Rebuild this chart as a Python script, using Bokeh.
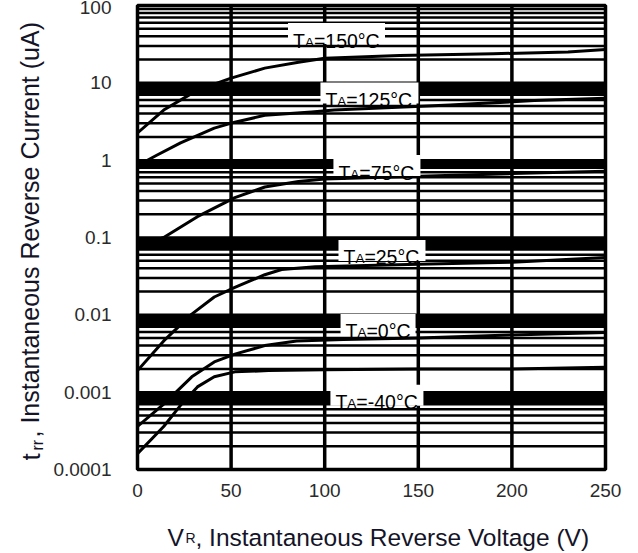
from bokeh.plotting import figure
from bokeh.models import Range1d, FixedTicker
from bokeh.layouts import row, column
from bokeh.core.properties import value
from bokeh.embed import file_html
from bokeh.resources import INLINE

# ---------------- data ----------------
x_ticks = [0, 50, 100, 150, 200, 250]
y_ticks = [0.0001, 0.001, 0.01, 0.1, 1, 10, 100]
y_tick_labels = ["0.0001", "0.001", "0.01", "0.1", "1", "10", "100"]

v_150 = [0, 14, 32, 50, 68, 86, 100, 140, 190, 230, 250]
i_150 = [2.25, 4.45, 8.05, 11.5, 15.5, 18.5, 20.8, 22.5, 23.8, 25.0, 27.0]
v_125 = [0, 10, 23, 41, 52, 68, 93, 105, 167, 212, 250]
i_125 = [0.85, 1.15, 1.67, 2.6, 3.1, 3.8, 4.2, 4.45, 5.15, 5.9, 6.3]
v_75 = [0, 14, 32, 52, 68, 86, 100, 150, 200, 250]
i_75 = [0.075, 0.1, 0.186, 0.327, 0.45, 0.53, 0.57, 0.62, 0.67, 0.72]
v_25 = [0, 14, 29, 41, 52, 68, 77, 95, 150, 200, 250]
i_25 = [0.0019, 0.0046, 0.0102, 0.017, 0.0227, 0.033, 0.0386, 0.042, 0.045, 0.048, 0.055]
v_0 = [0, 14, 29, 41, 52, 68, 85, 110, 150, 200, 250]
i_0 = [0.00036, 0.0007, 0.00158, 0.00246, 0.0031, 0.004, 0.0046, 0.0048, 0.005, 0.0055, 0.0059]
v_m40 = [0, 14, 23.5, 32, 41, 52, 70, 100, 150, 200, 250]
i_m40 = [0.00016, 0.00036, 0.0007, 0.00117, 0.00158, 0.00183, 0.0019, 0.00195, 0.002, 0.002, 0.0021]

curves_v = [v_150, v_125, v_75, v_25, v_0, v_m40]
curves_i = [i_150, i_125, i_75, i_25, i_0, i_m40]

label_temps = ["=150°C", "=125°C", "=75°C", "=25°C", "=0°C", "=-40°C"]
label_v = [106.3, 123.9, 127.9, 130.6, 128.5, 127.9]
label_i = [43.4, 7.39, 0.853, 0.068, 0.0075, 0.00091]

x_title_parts = ["V", "R", ", Instantaneous Reverse Voltage (V)"]
y_title_parts = ["t", "rr", ", Instantaneous Reverse Current (uA)"]

# ---------------- styling ----------------
FONT = "Liberation Sans"
TC = "#141428"
box_w = [97, 98, 87, 87, 75, 93]
T_W = 11.9
A_W = 9.0
band_depth = [0.7, 0.7, 0.7, 0.81, 0.7]   # relative lower edge of the dark band under each inner decade

TOTAL_W, TOTAL_H = 638, 553
LEFT_W = 48
MAIN_W = TOTAL_W - LEFT_W
MAIN_H = 515
BOT_H = TOTAL_H - MAIN_H
FR_L, FR_R, FR_T, FR_B = 137, 605, 5, 469   # frame edges in page pixels
BX_SHIFT = 7                                  # compensation for the title strip

p = figure(width=MAIN_W, height=MAIN_H, title=None,
           x_range=Range1d(0, 250), y_range=Range1d(1e-4, 100),
           y_axis_type="log", output_backend="svg", toolbar_location=None,
           min_border_left=FR_L - LEFT_W, min_border_right=TOTAL_W - FR_R,
           min_border_top=FR_T, min_border_bottom=MAIN_H - FR_B)
p.background_fill_color = "white"
p.border_fill_color = "white"
p.outline_line_color = "black"
p.outline_line_width = 3.5
p.grid.visible = False

for ax in (p.xaxis[0], p.yaxis[0]):
    ax.axis_line_color = None
    ax.major_tick_line_color = None
    ax.minor_tick_line_color = None
    ax.major_tick_out = 0
    ax.minor_tick_out = 0
    ax.major_label_text_font = FONT
    ax.major_label_text_font_size = "19px"
    ax.major_label_text_color = "#2a2a2a"

p.xaxis.ticker = FixedTicker(ticks=x_ticks, minor_ticks=[])
p.xaxis.major_label_standoff = 14
p.yaxis.ticker = FixedTicker(ticks=y_ticks, minor_ticks=[])
p.yaxis.major_label_overrides = {t: s for t, s in zip(y_ticks, y_tick_labels)}
p.yaxis.major_label_standoff = 26

# grid: horizontal lines at 1..9 per decade
h_lines = []
for k in range(-4, 2):
    for m in range(1, 10):
        val = m * 10.0 ** k
        if 1e-4 < val < 100:
            h_lines.append(val)
p.segment(x0=0, x1=250, y0=h_lines, y1=h_lines, line_color="black", line_width=2.5)

# thick dark bands just below each inner decade
band_top = y_ticks[1:-1]
band_bot = [d * f for d, f in zip(band_top, band_depth)]
p.quad(left=0, right=250, bottom=band_bot, top=band_top, fill_color="black", line_color=None)

# vertical grid lines
v_lines = x_ticks[1:-1]
p.segment(x0=v_lines, x1=v_lines, y0=1e-4, y1=100, line_color="black", line_width=3.5)

# curves
for vv, ii in zip(curves_v, curves_i):
    p.line(vv, ii, line_color="black", line_width=3, line_join="round")

# curve labels
p.rect(x=label_v, y=label_i, width=box_w, height=21,
       width_units="screen", height_units="screen",
       fill_color="white", line_color=None)
x_off_T = [-w / 2 + 5 for w in box_w]
x_off_A = [o + T_W for o in x_off_T]
x_off_R = [o + A_W for o in x_off_A]
p.text(x=label_v, y=label_i, text=["T"] * 6, x_offset=x_off_T, y_offset=7,
       text_align="left", text_baseline="alphabetic",
       text_font=value(FONT), text_font_size="19.5px", text_color="black")
p.text(x=label_v, y=label_i, text=["A"] * 6, x_offset=x_off_A, y_offset=8.5,
       text_align="left", text_baseline="alphabetic",
       text_font=value(FONT), text_font_size="13.5px", text_color="black")
p.text(x=label_v, y=label_i, text=label_temps, x_offset=x_off_R, y_offset=7,
       text_align="left", text_baseline="alphabetic",
       text_font=value(FONT), text_font_size="19.5px", text_color="black")


def title_fig(w, h, xr, yr, bl=0, br=0):
    f = figure(width=w, height=h, title=None,
               x_range=Range1d(*xr), y_range=Range1d(*yr),
               x_axis_type=None, y_axis_type=None, output_backend="svg",
               toolbar_location=None, min_border=0,
               min_border_left=bl, min_border_right=br,
               min_border_top=0, min_border_bottom=0)
    f.outline_line_color = None
    f.background_fill_color = "white"
    f.border_fill_color = "white"
    return f


# y-axis title panel: full height, data y = distance from page bottom
ly = title_fig(LEFT_W, TOTAL_H, (0, LEFT_W), (0, TOTAL_H))
ly.text(x=30, y=TOTAL_H - 460, text=[y_title_parts[0]], angle=1.5708,
        text_font=value(FONT), text_font_size="26px",
        text_color=TC, text_align="left", text_baseline="alphabetic")
ly.text(x=37, y=TOTAL_H - 450, text=[y_title_parts[1]], angle=1.5708,
        text_font=value(FONT), text_font_size="16px",
        text_color=TC, text_align="left", text_baseline="alphabetic")
ly.text(x=30, y=TOTAL_H - 437, text=[y_title_parts[2]], angle=1.5708,
        text_font=value(FONT), text_font_size="25px",
        text_color=TC, text_align="left", text_baseline="alphabetic")

# x-axis title panel: same side borders as the main plot, data x = page x
bx = title_fig(MAIN_W, BOT_H, (FR_L, FR_R), (0, BOT_H),
               bl=FR_L - LEFT_W, br=TOTAL_W - FR_R)
ty = TOTAL_H - 544 + BX_SHIFT
bx.text(x=167, y=ty, text=[x_title_parts[0]],
        text_font=value(FONT), text_font_size="24.5px",
        text_color=TC, text_align="left", text_baseline="alphabetic")
bx.text(x=185, y=ty, text=[x_title_parts[1]],
        text_font=value(FONT), text_font_size="14px",
        text_color=TC, text_align="left", text_baseline="alphabetic")
bx.text(x=195, y=ty, text=[x_title_parts[2]],
        text_font=value(FONT), text_font_size="24.5px",
        text_color=TC, text_align="left", text_baseline="alphabetic")

layout = row(ly, column(p, bx, spacing=0), spacing=0)

open("out.html", "w").write(file_html(layout, INLINE))
